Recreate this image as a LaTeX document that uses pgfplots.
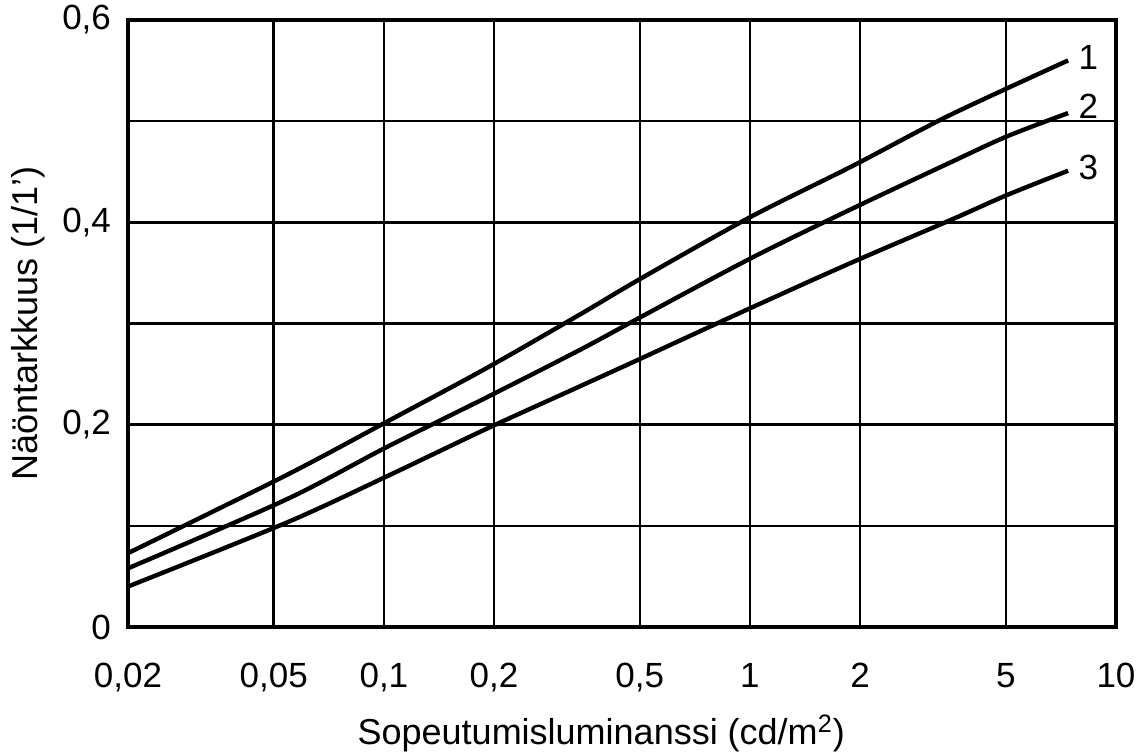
\documentclass[border=0pt]{standalone}
\usepackage{fontspec}
\setmainfont{Liberation Sans}
\usepackage{pgfplots}
\pgfplotsset{compat=1.18}
\begin{document}
\begin{tikzpicture}
\pgfplotstableread{
x y
0.02 0.073
0.0541 0.150
0.102 0.203
0.191 0.256
0.3436 0.309
0.501 0.344
1.0 0.405
1.89 0.455
3.52 0.506
7.4 0.560
}\curveA
\pgfplotstableread{
x y
0.02 0.058
0.0541 0.126
0.102 0.178
0.191 0.227
0.3436 0.274
0.501 0.306
1.0 0.364
1.89 0.413
3.52 0.459
5.04 0.485
7.4 0.508
}\curveB
\pgfplotstableread{
x y
0.02 0.040
0.0541 0.103
0.102 0.149
0.191 0.196
0.3436 0.238
0.501 0.265
1.0 0.315
1.89 0.360
3.52 0.402
5.04 0.427
7.4 0.451
}\curveC
\begin{axis}[
  at={(0,0)}, anchor=south west,
  scale only axis,
  width=494pt, height=303.5pt,
  xmode=log,
  xmin=0.02, xmax=10,
  ymin=0, ymax=0.6,
  xtick={0.02,0.05,0.1,0.2,0.5,1,2,5,10},
  xticklabels={{0,02},{0,05},{0,1},{0,2},{0,5},1,2,5,10},
  ytick={0,0.2,0.4,0.6},
  yticklabels={0,{0,2},{0,4},{0,6}},
  minor ytick={0.1,0.3,0.5},
  minor xtick={},
  grid=both,
  major grid style={black, line width=1.2pt},
  minor grid style={black, line width=1.2pt},
  major tick length=0pt, minor tick length=0pt,
  axis line style={black, line width=2.2pt},
  tick label style={font=\fontsize{17.5}{20}\selectfont},
  xticklabel style={anchor=base, yshift=-30.5pt},
  yticklabel style={xshift=-5pt},
  label style={font=\fontsize{18}{21}\selectfont},
  xlabel={Sopeutumisluminanssi (cd/m\textsuperscript{2})},
  xlabel style={at={(axis description cs:0.479,-0.175)}, anchor=center},
  ylabel={Näöntarkkuus (1/1')},
  ylabel style={at={(axis description cs:-0.101,0.5)}, anchor=center},
  clip=false,
]
\addplot[black, line width=2.2pt, smooth, tension=0.5] table {\curveA};
\addplot[black, line width=2.2pt, smooth, tension=0.5] table {\curveB};
\addplot[black, line width=2.2pt, smooth, tension=0.5] table {\curveC};
\node[font=\fontsize{17.5}{20}\selectfont] at (axis cs:8.4,0.563) {1};
\node[font=\fontsize{17.5}{20}\selectfont] at (axis cs:8.4,0.515) {2};
\node[font=\fontsize{17.5}{20}\selectfont] at (axis cs:8.4,0.454) {3};
\end{axis}
\pgfresetboundingbox
\path (-64pt,-63pt) rectangle (506.5pt,313.5pt);
\end{tikzpicture}
\end{document}
